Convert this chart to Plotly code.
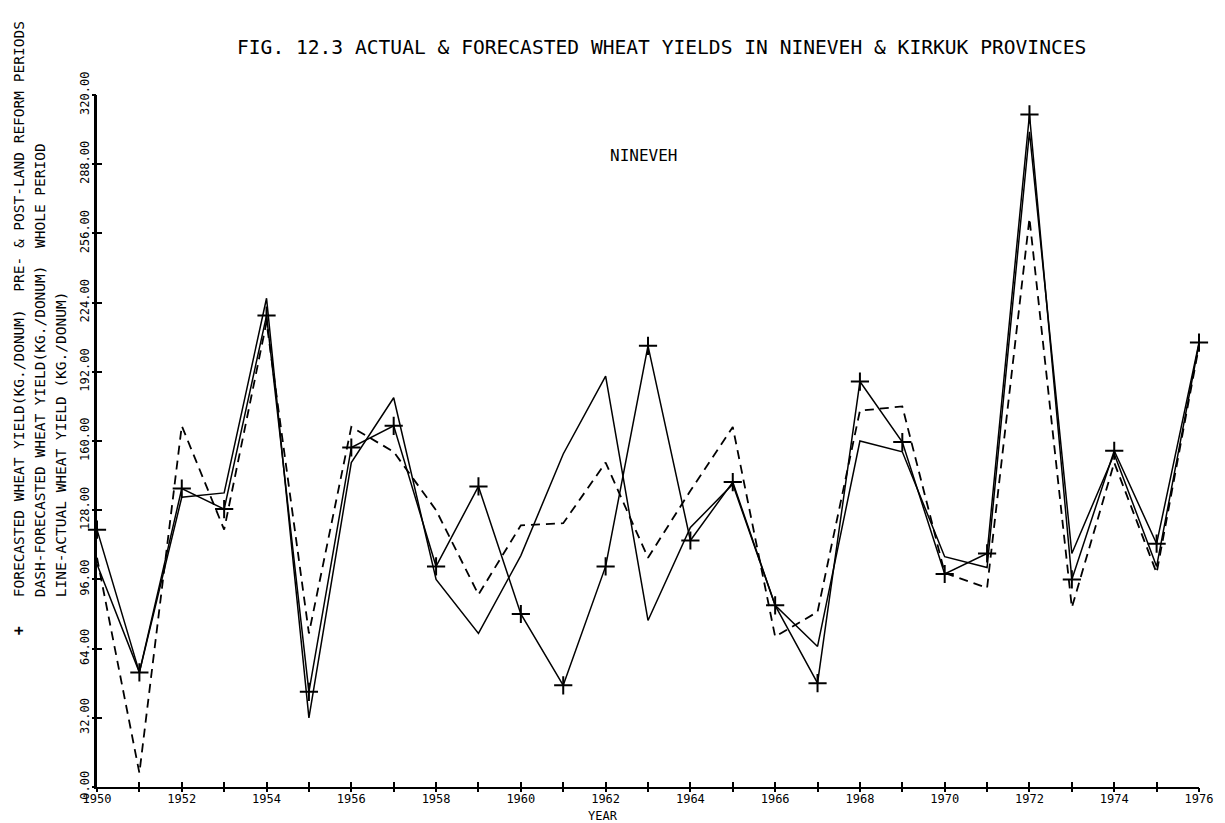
import plotly.graph_objects as go

years = list(range(1950, 1977))

actual = [103, 53, 134, 136, 226, 32, 150, 180, 96, 71, 107, 154, 190, 77,
          120, 140, 84, 65, 160, 155, 106.5, 101.5, 303, 108, 154, 102, 205]

forecast_pre_post = [119, 53, 138, 128.5, 218, 44, 157, 167, 102, 139, 80, 47, 102, 204,
                     114, 141, 84, 48, 187.5, 159.5, 98.5, 108, 311, 96, 155.5, 112.5, 205.5]

forecast_whole = [106, 6.5, 167, 119, 215, 71, 166.5, 155, 128, 89, 121, 122, 150, 106,
                  137, 166.5, 69.5, 81, 174, 176, 99, 92, 263, 83, 150, 99, 204]

y_ticks = [0, 32, 64, 96, 128, 160, 192, 224, 256, 288, 320]
y_tick_labels = ["0.00", "32.00", "64.00", "96.00", "128.00", "160.00",
                 "192.00", "224.00", "256.00", "288.00", "320.00"]
x_tick_labels = [str(y) if y % 2 == 0 else "" for y in years]

FONT = "DejaVu Sans Mono"

fig = go.Figure()
fig.add_trace(go.Scatter(x=years, y=actual, mode="lines", cliponaxis=False,
                         line=dict(color="black", width=1.5), showlegend=False))
fig.add_trace(go.Scatter(x=years, y=forecast_whole, mode="lines", cliponaxis=False,
                         line=dict(color="black", width=1.8, dash="9px,6px"), showlegend=False))
fig.add_trace(go.Scatter(x=years, y=forecast_pre_post, mode="lines+markers", cliponaxis=False,
                         line=dict(color="black", width=1.5),
                         marker=dict(symbol="cross-thin", size=13,
                                     line=dict(color="black", width=2)),
                         showlegend=False))
# invisible trace for overlay axes (outer tick halves)
fig.add_trace(go.Scatter(x=[years[0]], y=[y_ticks[0]], xaxis="x2", yaxis="y2",
                         mode="markers", marker=dict(opacity=0), showlegend=False,
                         hoverinfo="skip"))

fig.update_layout(
    width=1225, height=823,
    margin=dict(l=97, r=22, t=95, b=36),
    paper_bgcolor="white", plot_bgcolor="white",
    font=dict(family=FONT, color="black"),
    xaxis=dict(range=[1950, 1976], tickvals=years, ticktext=x_tick_labels,
               showgrid=False, zeroline=False, showline=True, linecolor="black",
               linewidth=2, ticks="inside", ticklen=5, tickwidth=2, tickcolor="black",
               tickfont=dict(size=12, family=FONT), tickangle=0),
    yaxis=dict(range=[0, 320], tickvals=y_ticks, ticktext=y_tick_labels,
               showgrid=False, zeroline=False, showline=True, linecolor="black",
               linewidth=2.5, ticks="inside", ticklen=5, tickwidth=2, tickcolor="black",
               tickfont=dict(size=12, family=FONT), tickangle=-90),
    xaxis2=dict(range=[1950, 1976], tickvals=years, overlaying="x",
                showticklabels=False, showgrid=False, zeroline=False, showline=False,
                ticks="outside", ticklen=4, tickwidth=2, tickcolor="black"),
    yaxis2=dict(range=[0, 320], tickvals=y_ticks, overlaying="y",
                showticklabels=False, showgrid=False, zeroline=False, showline=False,
                ticks="outside", ticklen=4, tickwidth=2, tickcolor="black"),
)

ann = []
ann.append(dict(text="FIG. 12.3 ACTUAL & FORECASTED WHEAT YIELDS IN NINEVEH & KIRKUK PROVINCES",
                xref="paper", yref="paper", x=0.5127, y=1.069, showarrow=False,
                font=dict(size=19.6, family=FONT), xanchor="center", yanchor="middle"))
ann.append(dict(text="NINEVEH", xref="paper", yref="paper", x=0.4955, y=0.913,
                showarrow=False, font=dict(size=16, family=FONT),
                xanchor="center", yanchor="middle"))
ann.append(dict(text="YEAR", xref="paper", yref="paper", x=0.4595, y=(787 - 816) / 692,
                showarrow=False, font=dict(size=12, family=FONT),
                xanchor="center", yanchor="middle"))
left_lines = [
    ("FORECASTED WHEAT YIELD(KG./DONUM)  PRE- & POST-LAND REFORM PERIODS", 19),
    ("DASH-FORECASTED WHEAT YIELD(KG./DONUM)  WHOLE PERIOD", 40),
    ("LINE-ACTUAL WHEAT YIELD (KG./DONUM)", 61),
]
for txt, px in left_lines:
    ann.append(dict(text=txt, xref="paper", yref="paper",
                    x=(px - 97) / 1106, y=(787 - 599) / 692, textangle=-90,
                    xanchor="center", yanchor="bottom", showarrow=False,
                    font=dict(size=14.5, family=FONT)))
ann.append(dict(text="<b>+</b>", xref="paper", yref="paper",
                x=(19 - 97) / 1106, y=(787 - 631) / 692, textangle=-90,
                xanchor="center", yanchor="middle", showarrow=False,
                font=dict(size=15, family=FONT)))
fig.update_layout(annotations=ann)

fig.write_html("out.html")
